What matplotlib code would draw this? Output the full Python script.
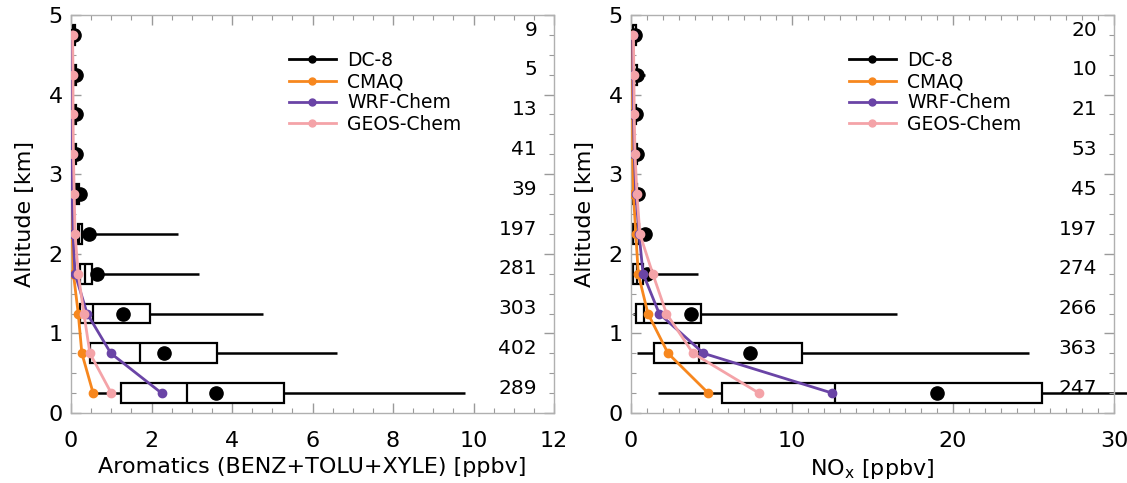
import matplotlib
matplotlib.use("Agg")
import matplotlib.pyplot as plt
from matplotlib.lines import Line2D
from matplotlib.ticker import MultipleLocator
import matplotlib.transforms as mtransforms

# ---------------- data ----------------
altitude = [0.25, 0.75, 1.25, 1.75, 2.25, 2.75, 3.25, 3.75, 4.25, 4.75]

# Aromatics (BENZ+TOLU+XYLE) [ppbv] -- DC-8 statistics
aro_lo     = [0.50, 0.35, 0.15, 0.08, 0.06, 0.05, 0.04, 0.04, 0.04, 0.02]
aro_q1     = [1.24, 0.47, 0.22, 0.22, 0.17, 0.12, 0.06, 0.06, 0.06, 0.04]
aro_med    = [2.87, 1.71, 0.54, 0.35, 0.20, 0.15, 0.09, 0.09, 0.09, 0.06]
aro_q3     = [5.29, 3.62, 1.96, 0.51, 0.27, 0.20, 0.13, 0.13, 0.13, 0.09]
aro_hi     = [9.79, 6.60, 4.78, 3.18, 2.65, 0.30, 0.18, 0.18, 0.18, 0.13]
aro_mean   = [3.60, 2.31, 1.30, 0.64, 0.44, 0.22, 0.12, 0.12, 0.12, 0.08]
aro_n      = [289, 402, 303, 281, 197, 39, 41, 13, 5, 9]
aro_cmaq   = [0.55, 0.27, 0.18, 0.06, 0.03, 0.02, 0.02, 0.02, 0.02, 0.02]
aro_wrf    = [2.25, 0.99, 0.40, 0.10, 0.05, 0.03, 0.02, 0.02, 0.02, 0.02]
aro_geos   = [1.00, 0.47, 0.32, 0.18, 0.10, 0.08, 0.06, 0.05, 0.05, 0.04]

# NOx [ppbv] -- DC-8 statistics
nox_lo     = [1.70, 0.40, 0.15, 0.05, 0.05, 0.05, 0.05, 0.05, 0.05, 0.05]
nox_q1     = [5.65, 1.45, 0.30, 0.10, 0.15, 0.15, 0.10, 0.10, 0.10, 0.10]
nox_med    = [12.7, 4.20, 0.80, 0.40, 0.30, 0.25, 0.20, 0.20, 0.20, 0.15]
nox_q3     = [25.5, 10.6, 4.35, 0.75, 0.50, 0.40, 0.35, 0.30, 0.40, 0.30]
nox_hi     = [33.5, 24.7, 16.5, 4.15, 1.20, 0.60, 0.50, 0.50, 0.90, 0.45]
nox_mean   = [19.0, 7.40, 3.70, 1.00, 0.85, 0.45, 0.35, 0.30, 0.40, 0.25]
nox_n      = [247, 363, 266, 274, 197, 45, 53, 21, 10, 20]
nox_cmaq   = [4.80, 2.30, 1.05, 0.45, 0.30, 0.15, 0.10, 0.10, 0.08, 0.08]
nox_wrf    = [12.5, 4.50, 1.75, 0.75, 0.50, 0.30, 0.20, 0.15, 0.12, 0.10]
nox_geos   = [7.95, 3.85, 2.20, 1.35, 0.55, 0.37, 0.25, 0.20, 0.18, 0.15]

series_names = ["DC-8", "CMAQ", "WRF-Chem", "GEOS-Chem"]
series_colors = ["black", "#f7871e", "#6a44a6", "#f4a3a8"]

# ---------------- figure ----------------
plt.rcParams['font.family'] = ['DejaVu Sans']
fig = plt.figure(figsize=(11.27, 4.83), dpi=100)

W, H = 1127.0, 483.0
ax1 = fig.add_axes([71 / W, (H - 413) / H, 483 / W, 398 / H])
ax2 = fig.add_axes([631 / W, (H - 413) / H, 483 / W, 398 / H])

BOX_H = 0.25


def draw_panel(ax, lo, q1, med, q3, hi, mean, n, cmaq, wrf, geos,
               xmax, xmajor, xminor, xlabel, leg_x):
    # boxes
    ax.barh(altitude, [b - a for a, b in zip(q1, q3)], left=q1, height=BOX_H,
            facecolor="white", edgecolor="black", linewidth=1.6, zorder=2)
    # medians
    ax.vlines(med, [a - BOX_H / 2 for a in altitude],
              [a + BOX_H / 2 for a in altitude], color="black", lw=1.6, zorder=3)
    # whiskers
    ax.hlines(altitude, lo, q1, color="black", lw=1.8, zorder=1)
    wh = ax.hlines(altitude, q3, hi, color="black", lw=1.8, zorder=1)
    wh.set_clip_on(False)
    # DC-8 means
    ax.plot(mean, altitude, ls="none", marker="o", ms=9.5, color="black",
            zorder=3.5)
    # models
    for vals, col in zip([cmaq, wrf, geos], series_colors[1:]):
        ax.plot(vals, altitude, color=col, lw=2.0, marker="o", ms=6,
                zorder=4)

    # counts
    trans = mtransforms.blended_transform_factory(ax.transAxes, ax.transData)
    for a, c in zip(altitude, n):
        ax.text(0.965, a + 0.06, str(c), transform=trans, ha="right",
                va="center", fontsize=14.5, zorder=6)

    ax.set_xlim(0, xmax)
    ax.set_ylim(0, 5)
    ax.xaxis.set_major_locator(MultipleLocator(xmajor))
    ax.xaxis.set_minor_locator(MultipleLocator(xminor))
    ax.yaxis.set_major_locator(MultipleLocator(1))
    ax.yaxis.set_minor_locator(MultipleLocator(0.25))
    ax.tick_params(which="both", direction="in", top=True, right=True,
                   color="#9a9a9a", labelsize=16)
    ax.tick_params(which="major", length=7, width=1)
    ax.tick_params(which="minor", length=3.5, width=0.8)
    ax.tick_params(axis="x", pad=13)
    ax.tick_params(axis="y", pad=6)
    for s in ax.spines.values():
        s.set_color("#b0b0b0")
        s.set_linewidth(1.0)
    ax.set_xlabel(xlabel, fontsize=16, labelpad=4)
    ax.set_ylabel("Altitude [km]", fontsize=16, labelpad=10)

    handles = [Line2D([0], [0], color=c, lw=2, marker="o", ms=5)
               for c in series_colors]
    ax.legend(handles, series_names, loc="upper left",
              bbox_to_anchor=(leg_x, 0.91), frameon=False, fontsize=13.5,
              handlelength=2.5, handletextpad=0.6, labelspacing=0.12,
              borderaxespad=0, borderpad=0)


draw_panel(ax1, aro_lo, aro_q1, aro_med, aro_q3, aro_hi, aro_mean, aro_n,
           aro_cmaq, aro_wrf, aro_geos, 12, 2, 0.5,
           "Aromatics (BENZ+TOLU+XYLE) [ppbv]", (289 - 71) / 483)
draw_panel(ax2, nox_lo, nox_q1, nox_med, nox_q3, nox_hi, nox_mean, nox_n,
           nox_cmaq, nox_wrf, nox_geos, 30, 10, 1,
           "NO$_\\mathregular{x}$ [ppbv]", (849 - 631) / 483)

fig.savefig("out.png", dpi=100)
